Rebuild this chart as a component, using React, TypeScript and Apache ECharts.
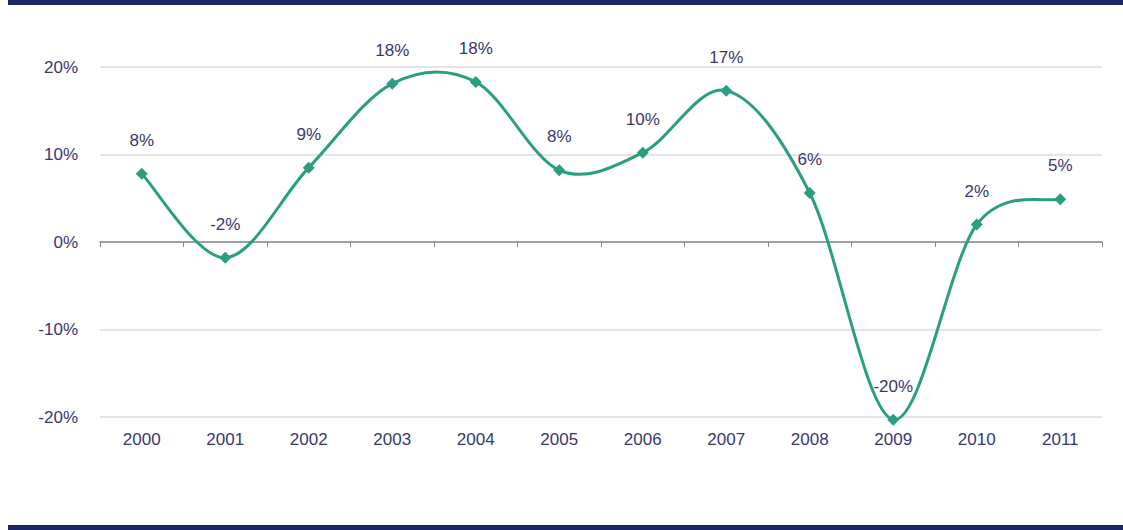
import React, { useEffect, useRef } from "react";
import * as echarts from "echarts";

const years = ["2000", "2001", "2002", "2003", "2004", "2005", "2006", "2007", "2008", "2009", "2010", "2011"];
const growth = [7.8, -1.8, 8.5, 18.1, 18.3, 8.2, 10.2, 17.3, 5.6, -20.3, 2.0, 4.9];
const pointLabels = ["8%", "-2%", "9%", "18%", "18%", "8%", "10%", "17%", "6%", "-20%", "2%", "5%"];
const yTicks = [-20, -10, 0, 10, 20];

export default function App() {
  const ref = useRef<HTMLDivElement>(null);
  useEffect(() => {
    if (!ref.current) return;
    const chart = echarts.init(ref.current, undefined, { renderer: "svg" });
    const navy = "#1e2566";
    const textColor = "#38386e";
    const green = "#2a9e80";
    chart.setOption({
      animation: false,
      backgroundColor: "#ffffff",
      textStyle: { fontFamily: "Liberation Sans, Arial, sans-serif" },
      grid: { left: 100, right: 21, top: 67, bottom: 113, containLabel: false },
      graphic: [
        { type: "rect", left: 8, top: 0, shape: { width: 1115, height: 5 }, style: { fill: navy } },
        { type: "rect", left: 8, top: 525, shape: { width: 1115, height: 5 }, style: { fill: navy } },
      ],
      xAxis: [
        {
          type: "category",
          data: years,
          boundaryGap: true,
          axisLine: { onZero: true, lineStyle: { color: "#888888", width: 1.5 } },
          axisTick: { show: true, length: 5, inside: false, lineStyle: { color: "#888888" } },
          axisLabel: { show: false },
          splitLine: { show: false },
        },
        {
          type: "category",
          data: years,
          position: "bottom",
          boundaryGap: true,
          axisLine: { show: false, onZero: false },
          axisTick: { show: false },
          axisLabel: { show: true, color: textColor, fontSize: 17, margin: 14 },
          splitLine: { show: false },
        },
      ],
      yAxis: {
        type: "value",
        min: yTicks[0],
        max: yTicks[yTicks.length - 1],
        interval: 10,
        axisLine: { show: false },
        axisTick: { show: false },
        axisLabel: { color: textColor, fontSize: 17, margin: 22, formatter: (v: number) => `${v}%` },
        splitLine: { lineStyle: { color: "#dcdcdc", width: 1.5 } },
      },
      series: [
        {
          type: "custom",
          xAxisIndex: 0,
          data: growth.map((v, i) => [i, v]),
          clip: false,
          silent: true,
          z: 2,
          renderItem: (params: any, api: any) => {
            if (params.dataIndex !== 0) return null;
            const pts = growth.map((v, i) => api.coord([i, v]));
            let d = `M${pts[0][0]},${pts[0][1]}`;
            for (let i = 0; i < pts.length - 1; i++) {
              const p0 = pts[i - 1] || pts[i];
              const p1 = pts[i];
              const p2 = pts[i + 1];
              const p3 = pts[i + 2] || pts[i + 1];
              const c1x = p1[0] + (p2[0] - p0[0]) / 6;
              const c1y = p1[1] + (p2[1] - p0[1]) / 6;
              const c2x = p2[0] - (p3[0] - p1[0]) / 6;
              const c2y = p2[1] - (p3[1] - p1[1]) / 6;
              d += ` C${c1x},${c1y} ${c2x},${c2y} ${p2[0]},${p2[1]}`;
            }
            return {
              type: "path",
              shape: { pathData: d },
              style: { stroke: green, lineWidth: 3, fill: "none" },
            };
          },
        },
        {
          type: "line",
          xAxisIndex: 0,
          data: growth,
          z: 3,
          clip: false,
          symbol: "diamond",
          symbolSize: 12,
          lineStyle: { width: 0, opacity: 0 },
          itemStyle: { color: green },
          labelLayout: { hideOverlap: false },
          label: {
            show: true,
            position: "top",
            distance: 19,
            color: textColor,
            fontSize: 17,
            formatter: (p: any) => pointLabels[p.dataIndex],
          },
        },
      ],
    });
    return () => chart.dispose();
  }, []);
  return <div ref={ref} style={{ position: "absolute", left: 0, top: 0, width: 1123, height: 530 }} />;
}
